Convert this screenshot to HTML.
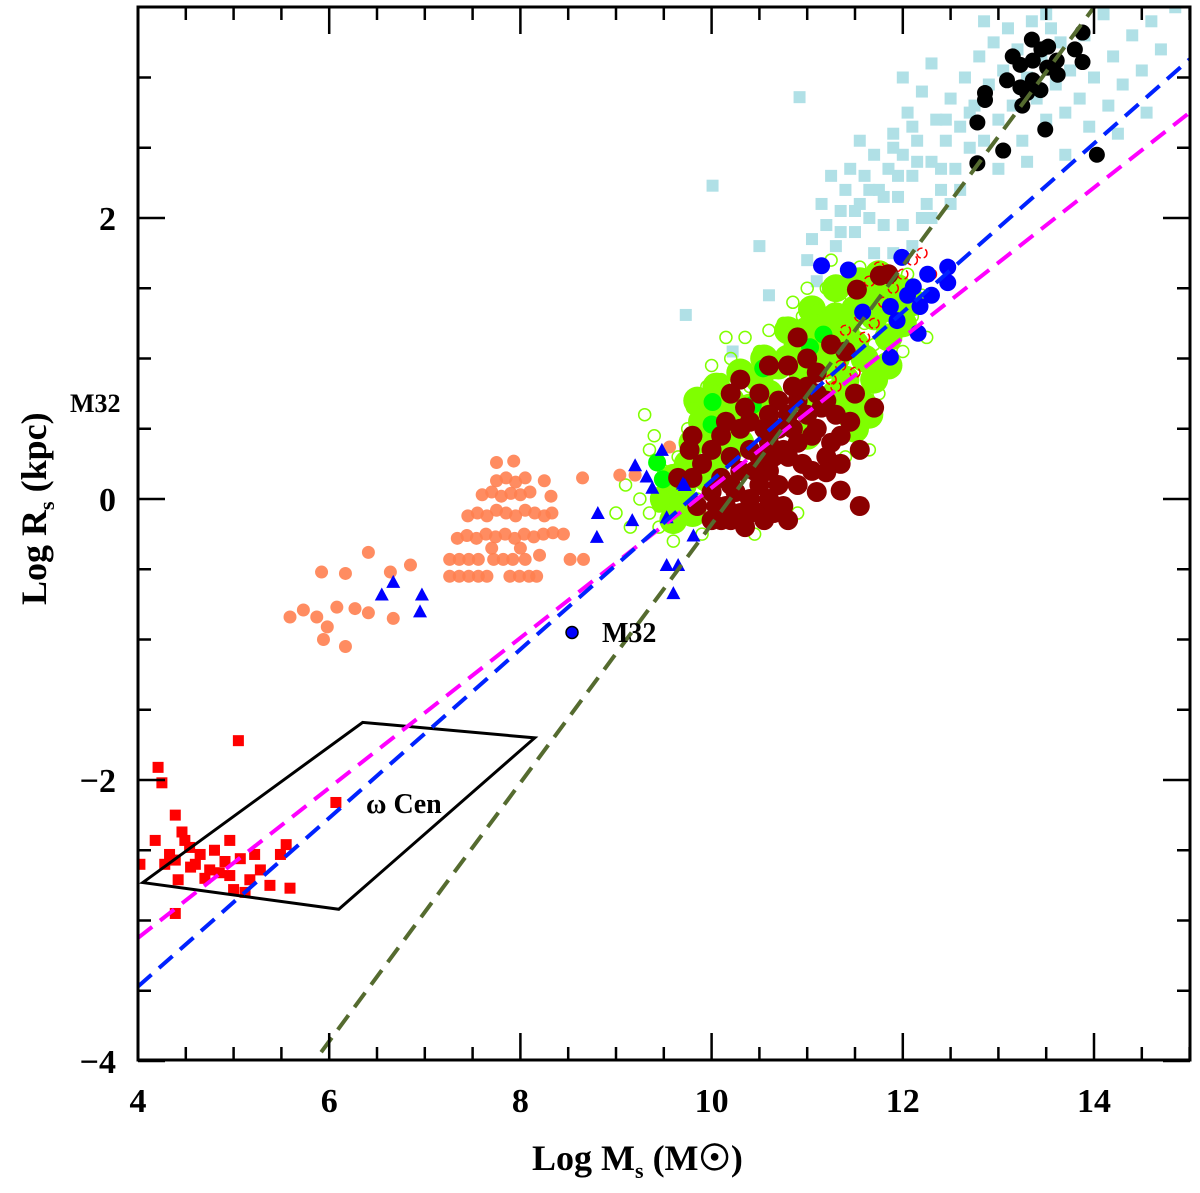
<!DOCTYPE html>
<html><head><meta charset="utf-8"><style>
html,body{margin:0;padding:0;background:#fff;width:1200px;height:1193px;overflow:hidden}
svg{display:block}
text{font-family:"Liberation Serif",serif;fill:#000}
</style></head><body>
<svg id="chart" width="1200" height="1193" viewBox="0 0 1200 1193" xmlns="http://www.w3.org/2000/svg">
<g id="marks"></g>
<g id="axes"></g>
<text x="532" y="1170" font-size="36" font-weight="bold">Log M<tspan font-size="22" dy="8">s</tspan><tspan dy="-8">  (M</tspan><tspan>☉</tspan><tspan>)</tspan></text>
<text transform="translate(46,605) rotate(-90)" font-size="36" font-weight="bold">Log R<tspan font-size="22" dy="8">s</tspan><tspan dy="-8"> (kpc)</tspan></text>
<text x="70" y="412" font-size="26" font-weight="bold">M32</text>
<text x="602" y="642" font-size="28" font-weight="bold">M32</text>
<text x="366" y="813" font-size="28" font-weight="bold">ω Cen</text>
</svg>
<script>
const xTicks=[4,6,8,10,12,14];
const yTicks=[-4,-2,0,2];
const yTickLabels=["\u22124","\u22122","0","2"];
const lightBlueSq=[[10.01,2.23],[9.73,1.31],[10.22,1.05],[10.92,2.86],[10.6,1.45],[11.0,1.7],[11.05,1.85],[11.2,1.95],[11.15,2.1],[11.3,1.8],[11.35,2.05],[11.4,2.2],[11.5,1.9],[11.55,2.1],[11.45,2.35],[11.6,2.3],[11.65,2.0],[11.7,2.45],[11.75,2.2],[11.8,1.95],[11.85,2.35],[11.9,2.6],[11.95,2.15],[12.0,2.45],[12.05,2.75],[12.1,2.3],[12.15,2.55],[12.2,2.9],[12.25,2.1],[12.3,2.4],[12.35,2.7],[12.4,2.2],[12.45,2.55],[12.5,2.85],[12.55,2.35],[12.6,2.65],[12.65,3.0],[12.7,2.5],[12.75,2.8],[12.8,3.15],[12.85,2.55],[12.9,2.95],[12.95,3.25],[13.0,2.7],[13.05,3.05],[13.1,3.35],[13.15,2.8],[13.2,3.2],[13.25,2.55],[13.3,3.0],[13.35,3.4],[13.4,2.85],[13.45,3.15],[13.5,2.7],[13.55,3.35],[13.6,2.95],[13.65,3.25],[13.7,2.75],[13.75,3.05],[13.85,2.85],[13.9,3.3],[13.95,2.65],[14.0,3.0],[14.1,3.45],[14.15,2.8],[14.2,3.15],[14.3,2.95],[14.4,3.3],[14.5,3.05],[14.6,3.4],[14.7,3.2],[14.85,3.5],[12.0,1.95],[12.1,1.8],[11.9,1.75],[12.3,2.0],[12.5,2.1],[11.7,1.75],[11.25,2.3],[11.55,2.55],[12.0,3.0],[12.3,3.1],[12.6,2.2],[13.0,2.35],[13.3,2.4],[13.7,2.45],[11.1,1.55],[10.5,1.8],[12.85,3.4],[13.5,3.45],[14.25,2.6],[14.55,2.75],[11.8,2.15],[11.95,2.3],[12.15,2.4],[12.2,2.0],[11.65,2.2],[11.5,2.05],[12.4,2.35],[12.7,2.75],[12.45,2.7],[11.35,1.9],[11.9,2.5],[12.1,2.65]];
const greenOpen=[[9.0,-0.1],[9.1,0.1],[9.15,-0.2],[9.3,0.6],[9.4,0.45],[9.35,0.35],[9.25,0.0],[9.45,-0.05],[9.5,0.2],[9.55,-0.15],[9.6,0.05],[9.65,0.3],[9.7,-0.1],[9.75,0.5],[9.8,0.65],[9.85,0.0],[9.9,0.4],[9.95,0.8],[10.0,0.95],[10.05,0.6],[10.1,0.85],[10.2,1.0],[10.3,0.95],[10.35,1.15],[10.4,0.8],[10.5,1.05],[10.6,1.2],[10.65,0.9],[10.75,1.25],[10.85,1.4],[10.95,1.3],[11.0,1.5],[11.1,1.35],[11.2,1.5],[11.25,1.7],[11.35,1.4],[11.45,1.55],[11.6,1.25],[11.7,1.1],[11.8,0.95],[11.9,1.2],[12.0,1.05],[12.1,1.3],[12.2,1.45],[12.25,1.15],[11.75,0.75],[11.6,0.55],[11.5,0.45],[11.65,0.35],[11.4,0.3],[12.05,1.6],[11.95,1.45],[10.9,-0.1],[10.45,-0.25],[9.9,-0.25],[9.6,-0.3],[9.45,-0.2],[9.35,-0.1],[10.15,1.15],[11.55,1.65],[11.85,1.5]];
const greenCore=[[9.5,0.0],[9.6,0.15],[9.7,0.1],[9.75,0.25],[9.8,0.4],[9.9,0.55],[10.0,0.5],[10.1,0.6],[10.2,0.7],[10.25,0.55],[10.4,0.65],[10.5,0.85],[10.6,0.75],[10.7,0.95],[10.8,1.0],[10.9,1.1],[11.0,1.2],[11.1,1.1],[11.2,1.25],[11.3,1.3],[11.4,1.2],[11.5,1.35],[11.6,1.4],[11.7,1.3],[11.8,1.45],[11.9,1.35],[12.0,1.25],[11.6,1.0],[11.7,0.85],[11.55,0.7],[11.45,0.6],[11.4,0.85],[11.3,1.0],[11.2,0.95],[9.7,-0.05],[9.8,-0.1],[9.95,0.15],[10.1,0.3],[11.85,1.15],[11.5,1.1],[9.85,0.7],[10.05,0.8],[10.3,0.9],[10.55,1.0],[10.8,1.2],[11.05,1.35],[11.3,1.5],[11.55,1.55],[11.75,1.6],[11.95,1.5],[11.65,0.6],[11.5,0.5],[11.3,0.75],[11.1,0.7],[10.95,0.9],[10.6,0.5],[10.3,0.4],[10.0,0.2],[9.6,-0.15],[12.1,1.4],[11.85,0.95],[11.0,0.45]];
const greenFilled=[[11.17,1.17],[10.54,0.93],[10.01,0.69],[10.0,0.53],[9.43,0.26],[9.49,0.14],[11.03,1.08],[10.43,0.67]];
const redMarks=[[11.15,0.75],[11.25,0.85],[11.35,0.95],[11.45,1.05],[11.3,0.8],[11.5,0.9],[11.6,1.15],[11.7,1.25],[11.8,1.4],[11.9,1.5],[12.0,1.6],[12.1,1.7],[12.2,1.75],[11.55,1.3],[11.65,1.55],[11.4,1.2],[12.3,1.6],[11.2,0.7],[11.75,1.65]];
const brown=[[10.0,0.05],[10.1,0.15],[10.2,0.1],[10.3,0.2],[10.2,0.3],[10.4,0.35],[10.5,0.3],[10.6,0.4],[10.7,0.5],[10.6,0.2],[10.5,0.1],[10.4,0.0],[10.3,-0.1],[10.2,-0.15],[10.5,-0.1],[10.6,0.0],[10.7,0.1],[10.8,0.3],[10.9,0.4],[10.8,0.6],[10.9,0.7],[11.0,0.6],[11.0,0.8],[11.1,0.5],[11.2,0.7],[11.1,0.9],[10.7,0.7],[10.6,0.6],[10.4,0.55],[10.3,0.5],[10.1,0.45],[10.0,0.35],[9.9,0.25],[9.8,0.15],[9.85,-0.05],[10.0,-0.15],[10.15,-0.05],[10.35,-0.2],[10.55,-0.15],[10.75,-0.05],[10.9,0.1],[11.05,0.2],[11.2,0.3],[11.35,0.25],[11.35,0.45],[11.3,0.6],[11.35,0.06],[11.55,-0.05],[11.2,0.19],[10.8,-0.15],[10.1,-0.15],[9.77,0.35],[9.65,0.15],[9.8,0.45],[10.2,0.75],[10.5,0.75],[10.8,0.95],[11.4,1.05],[11.52,1.49],[11.76,1.59],[11.85,1.6],[11.0,1.0],[10.9,1.15],[11.5,0.75],[11.25,1.1],[10.3,0.85],[10.6,0.95],[11.55,0.35],[11.7,0.65],[10.25,0.05],[10.45,0.2],[10.65,0.3],[10.85,0.5],[11.05,0.45],[11.15,0.65],[10.95,0.25],[10.75,0.35],[10.55,0.5],[10.35,0.65],[10.15,0.55],[10.05,-0.05],[10.4,-0.1],[10.65,-0.1],[11.1,0.05],[11.25,0.4],[11.45,0.55],[11.1,0.75],[10.85,0.8]];
const blueCirc=[[11.15,1.66],[11.43,1.63],[11.99,1.72],[12.26,1.6],[12.47,1.65],[12.47,1.54],[12.11,1.51],[12.18,1.37],[11.87,1.37],[11.58,1.33],[11.94,1.27],[12.16,1.18],[11.87,1.01],[12.05,1.45],[12.3,1.45]];
const blackCirc=[[13.35,3.27],[13.52,3.22],[13.23,3.09],[13.36,3.12],[13.51,3.07],[13.61,3.12],[13.09,2.98],[13.23,2.93],[13.36,2.98],[13.44,2.91],[13.3,2.89],[12.86,2.89],[12.86,2.84],[13.25,2.8],[13.88,3.32],[13.8,3.2],[13.88,3.11],[13.62,3.02],[12.78,2.68],[13.49,2.63],[13.05,2.48],[12.78,2.39],[14.03,2.45],[13.45,3.2],[13.15,3.15]];
const salmon=[[5.59,-0.84],[5.73,-0.79],[5.87,-0.84],[5.98,-0.91],[5.94,-1.0],[6.17,-1.05],[6.08,-0.77],[6.27,-0.78],[6.41,-0.81],[6.67,-0.85],[5.92,-0.52],[6.17,-0.53],[6.41,-0.38],[6.64,-0.52],[6.85,-0.47],
[7.26,-0.55],[7.36,-0.55],[7.46,-0.55],[7.56,-0.55],[7.65,-0.55],[7.89,-0.55],[7.99,-0.55],[8.09,-0.55],[8.17,-0.55],
[7.26,-0.43],[7.36,-0.43],[7.46,-0.43],[7.56,-0.43],[7.72,-0.43],[7.82,-0.43],[7.92,-0.43],[8.05,-0.43],[8.52,-0.43],[8.66,-0.43],
[7.34,-0.28],[7.44,-0.26],[7.54,-0.28],[7.64,-0.25],[7.74,-0.27],[7.84,-0.25],[7.94,-0.28],[8.04,-0.25],[8.14,-0.27],[8.24,-0.25],[8.34,-0.24],[8.45,-0.25],
[7.45,-0.12],[7.55,-0.1],[7.65,-0.12],[7.75,-0.08],[7.85,-0.1],[7.95,-0.12],[8.05,-0.08],[8.15,-0.1],[8.25,-0.12],[8.33,-0.1],
[7.6,0.03],[7.7,0.05],[7.8,0.02],[7.9,0.04],[8.0,0.03],[8.1,0.05],[8.32,0.02],
[7.75,0.13],[7.85,0.15],[7.95,0.12],[8.05,0.15],[8.25,0.13],
[7.75,0.26],[7.93,0.27],[8.65,0.15],[9.04,0.17],[9.2,0.17],[9.56,0.37],[8.0,-0.35],[7.7,-0.35],[8.2,-0.4]];
const triX=[6.55,6.67,6.97,6.95,8.81,8.8,9.17,9.2,9.32,9.38,9.53,9.65,9.6,9.81,9.53,9.7,9.48,9.72];
const triY=[-0.68,-0.59,-0.68,-0.8,-0.1,-0.27,-0.15,0.24,0.16,0.08,-0.47,-0.47,-0.67,-0.26,-0.13,0.11,0.35,0.1];
const redSq=[[5.05,-1.72],[4.21,-1.91],[4.25,-2.02],[4.39,-2.25],[4.46,-2.37],[4.18,-2.43],[4.49,-2.43],[4.54,-2.48],[4.65,-2.53],[4.8,-2.5],[4.33,-2.53],[4.39,-2.57],[4.6,-2.6],[4.75,-2.64],[4.91,-2.58],[5.07,-2.56],[5.22,-2.53],[5.28,-2.64],[5.17,-2.71],[4.96,-2.68],[4.7,-2.7],[4.42,-2.71],[4.28,-2.6],[4.02,-2.6],[5.12,-2.8],[4.39,-2.95],[5.55,-2.46],[5.49,-2.53],[5.59,-2.77],[5.38,-2.75],[4.96,-2.43],[6.07,-2.16],[4.55,-2.62],[4.85,-2.66],[5.0,-2.78]];
const m32=[8.54,-0.95];
const omegaCenBox=[[4.05,-2.73],[6.35,-1.59],[8.15,-1.70],[6.1,-2.92]];
const fitSlopes=[0.534,0.6,0.92];
const fitIntercepts=[-5.26,-5.87,-9.38];
const fitNames=["magenta-fit-line","blue-fit-line","olive-fit-line"];
const fitColors=["#ff00ff","#0022ff","#556b2f"];

const X0=138,X1=1190,Y0=7,Y1=1060;
const X=v=>138+(v-4)*95.6;
const Y=v=>499-v*140.5;
const NS="http://www.w3.org/2000/svg";
const marks=document.getElementById('marks'), axes=document.getElementById('axes');
function mk(tag,attrs,parent){const e=document.createElementNS(NS,tag);for(const k in attrs)e.setAttribute(k,attrs[k]);parent.appendChild(e);return e;}
const clip=mk('clipPath',{id:'pc'},document.getElementById('chart'));
mk('rect',{x:X0,y:Y0,width:X1-X0,height:Y1-Y0},clip);
marks.setAttribute('clip-path','url(#pc)');

lightBlueSq.forEach(p=>{const e=mk('rect',{x:X(p[0])-6,y:Y(p[1])-6,width:12,height:12,fill:'#b0e0e6'},marks);

});
greenCore.forEach(p=>{const e=mk('circle',{cx:X(p[0]),cy:Y(p[1]),r:14,fill:'#7fff00'},marks);

});
greenOpen.forEach(p=>{const e=mk('circle',{cx:X(p[0]),cy:Y(p[1]),r:6,fill:'none',stroke:'#7fff00','stroke-width':1.5},marks);

});
greenFilled.forEach(p=>{const e=mk('circle',{cx:X(p[0]),cy:Y(p[1]),r:9,fill:'#00ff00'},marks);

});
redMarks.forEach(p=>{const e=mk('circle',{cx:X(p[0]),cy:Y(p[1]),r:5,fill:'none',stroke:'#ff0000','stroke-width':1.5,'stroke-dasharray':'6 3'},marks);

});
brown.forEach(p=>{const e=mk('circle',{cx:X(p[0]),cy:Y(p[1]),r:10,fill:'#8b0000'},marks);

});
blueCirc.forEach(p=>{const e=mk('circle',{cx:X(p[0]),cy:Y(p[1]),r:8.5,fill:'#0000ff'},marks);

});
blackCirc.forEach(p=>{const e=mk('circle',{cx:X(p[0]),cy:Y(p[1]),r:8,fill:'#000'},marks);

});
salmon.forEach(p=>{const e=mk('circle',{cx:X(p[0]),cy:Y(p[1]),r:6.5,fill:'#ff7f50',opacity:0.9},marks);

});
triX.forEach((v,i)=>{const cx=X(v),cy=Y(triY[i]);
const e=mk('polygon',{points:`${cx},${cy-7} ${cx-7},${cy+6} ${cx+7},${cy+6}`,fill:'#0000ff'},marks);

});
redSq.forEach(p=>{const e=mk('rect',{x:X(p[0])-5.5,y:Y(p[1])-5.5,width:11,height:11,fill:'#ff0000'},marks);

});
{const g=mk('g',{},marks);


mk('circle',{cx:X(m32[0]),cy:Y(m32[1]),r:6,fill:'#0000ff',stroke:'#000','stroke-width':1.5},g);}
{const e=mk('polygon',{points:omegaCenBox.map(p=>X(p[0])+','+Y(p[1])).join(' '),fill:'none',stroke:'#000','stroke-width':3},marks);

}
fitSlopes.forEach((s,i)=>{const xa=4,xb=15;
const e=mk('line',{x1:X(xa),y1:Y(s*xa+fitIntercepts[i]),x2:X(xb),y2:Y(s*xb+fitIntercepts[i]),stroke:fitColors[i],'stroke-width':4,'stroke-dasharray':'18 10'},marks);

});

{const e=mk('rect',{x:X0,y:Y0,width:X1-X0,height:Y1-Y0,fill:'none',stroke:'#000','stroke-width':3},axes);

}
for(let v=4;v<=15.01;v+=0.5){const maj=Math.abs(v-Math.round(v/2)*2)<1e-6;const L=maj?27:13;
mk('line',{x1:X(v),y1:Y1,x2:X(v),y2:Y1-L,stroke:'#000','stroke-width':2.5},axes);
mk('line',{x1:X(v),y1:Y0,x2:X(v),y2:Y0+L,stroke:'#000','stroke-width':2.5},axes);}
for(let v=-4;v<=3.5;v+=0.5){const maj=Math.abs(v-Math.round(v/2)*2)<1e-6;const L=maj?27:13;
mk('line',{x1:X0,y1:Y(v),x2:X0+L,y2:Y(v),stroke:'#000','stroke-width':2.5},axes);
mk('line',{x1:X1,y1:Y(v),x2:X1-L,y2:Y(v),stroke:'#000','stroke-width':2.5},axes);}
xTicks.forEach(v=>{const t=mk('text',{x:X(v),y:1112,'font-size':34,'font-weight':'bold','text-anchor':'middle'},axes);t.textContent=v;

});
yTicks.forEach((v,i)=>{const t=mk('text',{x:116,y:Y(v)+12,'font-size':34,'font-weight':'bold','text-anchor':'end'},axes);t.textContent=yTickLabels[i];

});
</script>
</body></html>
